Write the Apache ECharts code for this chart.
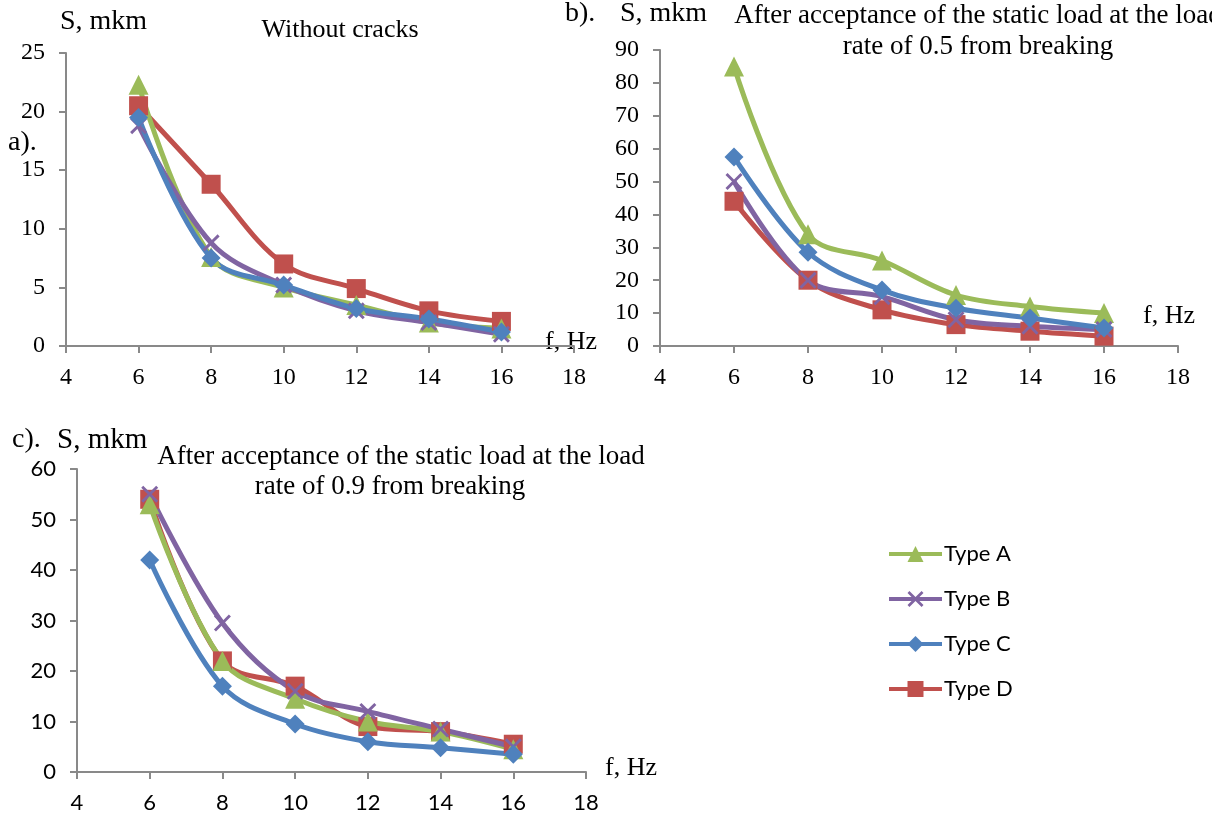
<!DOCTYPE html>
<html>
<head>
<meta charset="utf-8">
<script src="https://cdn.jsdelivr.net/npm/echarts@6/dist/echarts.min.js"></script>
<style>
  html, body { margin: 0; padding: 0; background: #fff; }
  #chart { width: 1212px; height: 820px; }
</style>
</head>
<body>
<div id="chart"></div>
<script>
// frequencies, Hz
var freq = [6, 8, 10, 12, 14, 16]

// a) without cracks
var aTypeA = [22.3, 7.6, 5.0, 3.5, 2.0, 1.5]
var aTypeB = [18.8, 8.8, 5.2, 3.0, 2.0, 1.0]
var aTypeC = [19.5, 7.5, 5.2, 3.2, 2.3, 1.2]
var aTypeD = [20.5, 13.8, 7.0, 4.9, 3.0, 2.1]

// b) load rate 0.5
var bTypeA = [85, 34, 26, 15.5, 12, 10]
var bTypeB = [50, 20, 15, 8, 6, 5]
var bTypeC = [57.5, 28.5, 17, 11.5, 8.5, 5.5]
var bTypeD = [44, 20, 11, 6.5, 4.5, 3]

// c) load rate 0.9
var cTypeA = [53, 22, 14.5, 10, 8, 4.5]
var cTypeB = [55, 29.5, 16, 12, 8.5, 5]
var cTypeC = [42, 17, 9.5, 6, 4.8, 3.5]
var cTypeD = [54, 22, 17, 9, 8, 5.5]

var typeNames = ['Type A', 'Type B', 'Type C', 'Type D']
var colors = ['#9BBB59', '#8064A2', '#4F81BD', '#C0504D']
var symbols = [
	'triangle',
	'path://M0,1.2L1.2,0L5,3.8L8.8,0L10,1.2L6.2,5L10,8.8L8.8,10L5,6.2L1.2,10L0,8.8L3.8,5Z',
	'diamond',
	'rect'
]
var symbolSizes = [20, 17, 19, 19]

var serif = 'Liberation Serif'
var sans = 'Lato'

function makeLabel(font, fontSize, margin) {
	return {
		color: '#000', fontFamily: font, fontSize: fontSize, margin: margin,
		formatter: function (v) { return '{t|' + v + '}' },
		rich: { t: { fontFamily: font, fontSize: fontSize, color: '#000' } }
	}
}

function makeAxes(gridIndex, yMax, yInterval, font, fontSize) {
	var lineStyle = { color: '#898989', width: 2 }
	var axisTick = { show: true, length: 7, lineStyle: lineStyle }
	return {
		x: {
			type: 'value', gridIndex: gridIndex, min: 4, max: 18, interval: 2,
			axisLine: { lineStyle: lineStyle }, axisTick: axisTick, splitLine: { show: false },
			axisLabel: makeLabel(font, fontSize, 20)
		},
		y: {
			type: 'value', gridIndex: gridIndex, min: 0, max: yMax, interval: yInterval,
			axisLine: { show: true, lineStyle: lineStyle }, axisTick: axisTick, splitLine: { show: false },
			axisLabel: makeLabel(font, fontSize, 21)
		}
	}
}

function makeSeries(gridIndex, arrs) {
	// D first so C, B, A sit on top like in the picture
	var order = [3, 0, 1, 2]
	return order.map(function (k) {
		return {
			name: typeNames[k],
			type: 'line',
			xAxisIndex: gridIndex,
			yAxisIndex: gridIndex,
			smooth: 0.35,
			symbol: symbols[k],
			symbolSize: symbolSizes[k],
			lineStyle: { color: colors[k], width: 5 },
			itemStyle: { color: colors[k] },
			data: freq.map(function (f, i) { return [f, arrs[k][i]] })
		}
	})
}

var axA = makeAxes(0, 25, 5, serif, 24)
var axB = makeAxes(1, 90, 10, serif, 24)
var axC = makeAxes(2, 60, 10, sans, 22)

function txt(text, x, y, size, align) {
	return {
		type: 'text', x: x, y: y,
		style: {
			text: text, fill: '#000',
			font: size + 'px "' + serif + '"',
			textAlign: align || 'left', textVerticalAlign: 'middle'
		}
	}
}

var chart = echarts.init(document.getElementById('chart'))
chart.setOption({
	animation: false,
	textStyle: { fontFamily: serif },
	grid: [
		{ left: 66, top: 53, width: 508, height: 293 },
		{ left: 660, top: 50, width: 518, height: 296 },
		{ left: 77, top: 469, width: 509, height: 303 }
	],
	xAxis: [axA.x, axB.x, axC.x],
	yAxis: [axA.y, axB.y, axC.y],
	legend: {
		data: typeNames,
		orient: 'vertical',
		left: 882,
		top: 538,
		itemWidth: 53,
		itemHeight: 20,
		itemGap: 23,
		lineStyle: { width: 4 },
		textStyle: { fontFamily: sans, fontSize: 22, color: '#000', padding: [0, 0, 0, -3] }
	},
	graphic: [
		txt('S, mkm', 60, 22, 28),
		txt('Without cracks', 340, 30, 26, 'center'),
		txt('a).', 8, 143, 28),
		txt('f, Hz', 545, 342, 26),
		txt('b).', 565, 14, 28),
		txt('S, mkm', 620, 14, 28),
		txt('After acceptance of the static load at the load', 978, 16, 27, 'center'),
		txt('rate of 0.5 from breaking', 978, 47, 27, 'center'),
		txt('f, Hz', 1143, 316, 26),
		txt('c).', 12, 440, 28),
		txt('S, mkm', 57, 440, 29),
		txt('After acceptance of the static load at the load', 401, 457, 27, 'center'),
		txt('rate of 0.9 from breaking', 390, 487, 27, 'center'),
		txt('f, Hz', 605, 768, 26)
	],
	series: []
		.concat(makeSeries(0, [aTypeA, aTypeB, aTypeC, aTypeD]))
		.concat(makeSeries(1, [bTypeA, bTypeB, bTypeC, bTypeD]))
		.concat(makeSeries(2, [cTypeA, cTypeB, cTypeC, cTypeD]))
})
</script>
</body>
</html>
